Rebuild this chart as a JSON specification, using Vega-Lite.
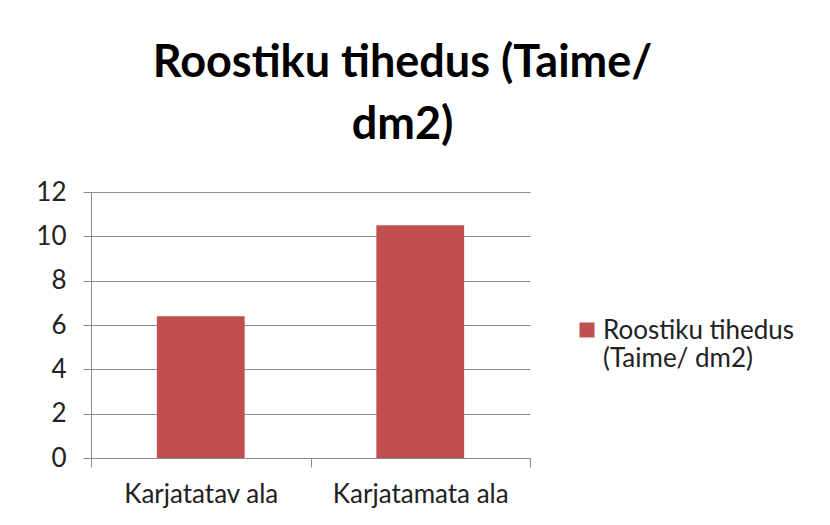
{
  "$schema": "https://vega.github.io/schema/vega-lite/v6.json",
  "autosize": "none",
  "width": 439,
  "height": 266,
  "padding": {"left": 91, "top": 192, "right": 300, "bottom": 67},
  "background": "white",
  "title": {
    "text": ["Roostiku tihedus (Taime/", "dm2)"],
    "font": "Lato",
    "fontSize": 45,
    "fontWeight": "bold",
    "color": "#000000",
    "anchor": "middle",
    "frame": "group",
    "dx": 92,
    "lineHeight": 62,
    "offset": 31
  },
  "data": {
    "values": [
      {"Ala": "Karjatatav ala", "Tihedus": 6.4, "Seeria": "Roostiku tihedus (Taime/ dm2)"},
      {"Ala": "Karjatamata ala", "Tihedus": 10.5, "Seeria": "Roostiku tihedus (Taime/ dm2)"}
    ]
  },
  "mark": {"type": "bar", "width": {"band": 0.4}},
  "encoding": {
    "x": {
      "field": "Ala",
      "type": "nominal",
      "sort": null,
      "scale": {"paddingInner": 0, "paddingOuter": 0},
      "axis": {
        "title": null,
        "labelAngle": 0,
        "labelFont": "Lato",
        "labelFontSize": 26,
        "labelColor": "#222222",
        "labelPadding": 14,
        "tickBand": "extent",
        "ticks": true,
        "tickSize": 9,
        "tickColor": "#8c8c8c",
        "domainColor": "#8c8c8c",
        "grid": false
      }
    },
    "y": {
      "field": "Tihedus",
      "type": "quantitative",
      "scale": {"domain": [0, 12], "nice": false},
      "axis": {
        "title": null,
        "values": [0, 2, 4, 6, 8, 10, 12],
        "labelFont": "Lato",
        "labelFontSize": 26,
        "labelColor": "#222222",
        "labelPadding": 17,
        "ticks": true,
        "tickSize": 8,
        "tickColor": "#8c8c8c",
        "domainColor": "#8c8c8c",
        "gridColor": "#8c8c8c",
        "gridWidth": 1
      }
    },
    "color": {
      "field": "Seeria",
      "type": "nominal",
      "scale": {"range": ["#C0504D"]},
      "legend": {
        "title": null,
        "orient": "none",
        "legendX": 483,
        "legendY": 125,
        "symbolType": "square",
        "symbolSize": 225,
        "symbolStrokeWidth": 0,
        "labelFont": "Lato",
        "labelFontSize": 26,
        "labelColor": "#222222",
        "labelLimit": 300,
        "labelExpr": "['Roostiku tihedus', '(Taime/ dm2)']",
        "labelBaseline": "alphabetic",
        "labelLineHeight": 35,
        "labelOffset": 3,
        "encode": {"labels": {"update": {"dy": {"value": 9}}}}
      }
    }
  },
  "config": {
    "view": {"stroke": null}
  }
}
